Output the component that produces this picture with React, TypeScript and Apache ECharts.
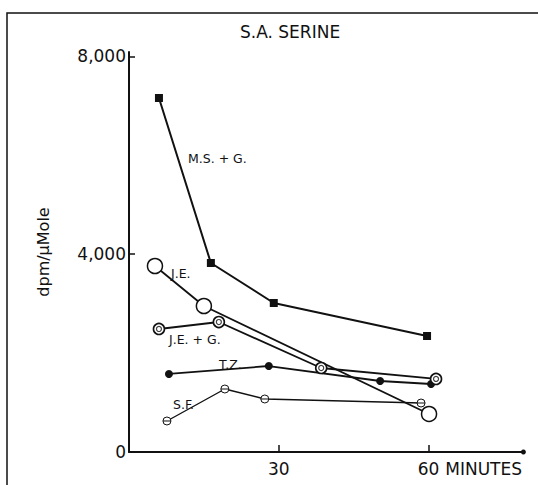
import React, { useEffect, useRef } from 'react';
import * as echarts from 'echarts';

// Tick values
const xTickValues = [30, 60];
const yTickValues = [0, 4000, 8000];

// Series data (minutes, dpm/µMole)
const msgTimes = [6.0, 16.4, 29.0, 59.7];
const msgValues = [7160, 3823, 3014, 2346];

const jeTimes = [5.2, 15.0, 60.1];
const jeValues = [3762, 2953, 769];

const jegTimes = [6.0, 18.0, 38.5, 61.5];
const jegValues = [2488, 2629, 1699, 1477];

const tzTimes = [8.0, 28.0, 50.3, 60.5];
const tzValues = [1578, 1739, 1436, 1375];

const sfTimes = [7.6, 19.2, 27.2, 58.5];
const sfValues = [627, 1274, 1072, 991];

const seriesNames = ['M.S. + G.', 'J.E.', 'J.E. + G.', 'T.Z.', 'S.F.'];

const pairs = (t: number[], v: number[]) => t.map((x, i) => [x, v[i]]);

const FONT = 'DejaVu Sans';
const INK = '#111';

const thetaPath = 'path://M-10,0A10,10,0,1,1,10,0A10,10,0,1,1,-10,0ZM-10,0L10,0';

export default function App() {
  const ref = useRef<HTMLDivElement>(null);

  useEffect(() => {
    if (!ref.current) return;
    const chart = echarts.init(ref.current, undefined, { renderer: 'svg' });

    const lineBase = (name: string, data: number[][]) => ({
      name,
      type: 'line',
      data,
      lineStyle: { color: INK, width: 1.8 },
      emphasis: { disabled: true },
    });

    const labelText = (text: string, x: number, y: number) => ({
      type: 'text',
      x,
      y,
      style: {
        text,
        font: `12.5px "${FONT}"`,
        fill: INK,
        verticalAlign: 'middle',
        align: 'left',
      },
    });

    chart.setOption({
      animation: false,
      backgroundColor: '#fff',
      title: {
        text: 'S.A. SERINE',
        left: 240,
        top: 23,
        padding: 0,
        textStyle: { fontFamily: FONT, fontSize: 17, fontWeight: 'normal', color: INK },
      },
      grid: { left: 129, top: 52, width: 394.4, height: 400 },
      xAxis: {
        type: 'value',
        min: 0,
        max: 79,
        splitLine: { show: false },
        axisLine: {
          lineStyle: { color: INK, width: 2 },
          symbol: ['none', 'circle'],
          symbolSize: [5, 5],
        },
        axisTick: {
          inside: true,
          length: 7,
          customValues: xTickValues,
          lineStyle: { color: INK, width: 1.5 },
        },
        axisLabel: {
          customValues: xTickValues,
          margin: 8,
          fontFamily: FONT,
          fontSize: 17,
          color: INK,
        },
        name: 'MINUTES',
        nameLocation: 'end',
        nameGap: -82,
        nameTextStyle: {
          fontFamily: FONT,
          fontSize: 17,
          color: INK,
          align: 'left',
          verticalAlign: 'top',
          padding: [8, 0, 0, 0],
        },
      },
      yAxis: {
        type: 'value',
        min: 0,
        max: 8090,
        splitLine: { show: false },
        axisLine: { lineStyle: { color: INK, width: 2 } },
        axisTick: {
          inside: true,
          length: 6,
          customValues: yTickValues,
          lineStyle: { color: INK, width: 1.5 },
        },
        axisLabel: {
          customValues: yTickValues,
          margin: 3,
          fontFamily: FONT,
          fontSize: 17,
          color: INK,
          formatter: (v: number) => v.toLocaleString('en-US'),
        },
        name: 'dpm/μMole',
        nameLocation: 'middle',
        nameGap: 78,
        nameTextStyle: { fontFamily: FONT, fontSize: 16, color: INK },
      },
      series: [
        {
          ...lineBase(seriesNames[0], pairs(msgTimes, msgValues)),
          lineStyle: { color: INK, width: 2 },
          symbol: 'rect',
          symbolSize: 8,
          itemStyle: { color: INK },
        },
        {
          ...lineBase(seriesNames[1], pairs(jeTimes, jeValues)),
          symbol: 'circle',
          symbolSize: 15,
          itemStyle: { color: '#fff', borderColor: INK, borderWidth: 1.5 },
          z: 3,
        },
        {
          ...lineBase(seriesNames[2], pairs(jegTimes, jegValues)),
          symbol: 'circle',
          symbolSize: 11,
          itemStyle: { color: '#fff', borderColor: INK, borderWidth: 1.6 },
          z: 4,
        },
        {
          name: seriesNames[2] + ' inner',
          type: 'scatter',
          data: pairs(jegTimes, jegValues),
          symbol: 'circle',
          symbolSize: 5,
          itemStyle: { color: '#fff', borderColor: INK, borderWidth: 1.2 },
          z: 5,
          emphasis: { disabled: true },
        },
        {
          ...lineBase(seriesNames[3], pairs(tzTimes, tzValues)),
          symbol: 'circle',
          symbolSize: 8,
          itemStyle: { color: INK },
        },
        {
          ...lineBase(seriesNames[4], pairs(sfTimes, sfValues)),
          lineStyle: { color: INK, width: 1.4 },
          symbol: thetaPath,
          symbolSize: 8,
          itemStyle: { color: '#fff', borderColor: INK, borderWidth: 1 },
        },
      ],
      graphic: [
        {
          type: 'polyline',
          shape: { points: [[7, 485], [7, 13], [538, 13]] },
          style: { stroke: INK, lineWidth: 1.5, fill: 'none' },
        },
        labelText(seriesNames[0], 188, 158),
        labelText(seriesNames[1], 171, 273),
        labelText(seriesNames[2], 169, 339),
        labelText(seriesNames[3], 219, 364),
        labelText(seriesNames[4], 173, 404),
      ],
    });

    return () => chart.dispose();
  }, []);

  return (
    <div
      ref={ref}
      style={{ position: 'absolute', left: 0, top: 0, width: 538, height: 485, background: '#fff' }}
    />
  );
}
